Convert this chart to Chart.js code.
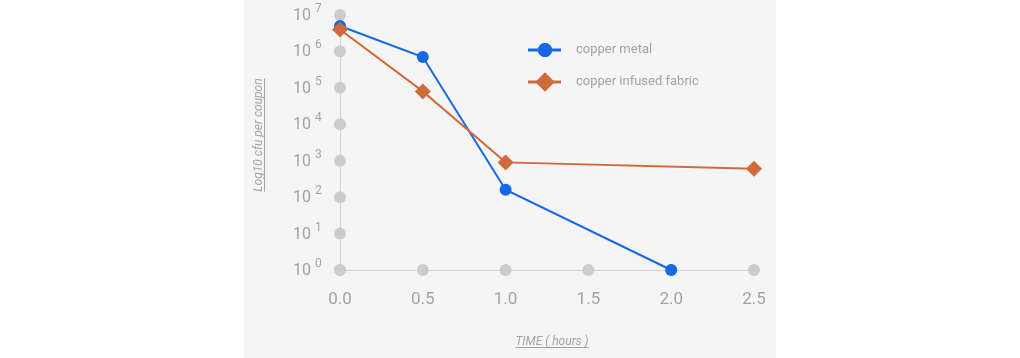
<!DOCTYPE html>
<html>
<head>
<meta charset="utf-8">
<script src="https://cdn.jsdelivr.net/npm/chart.js@4/dist/chart.umd.min.js"></script>
<style>
  html, body { margin: 0; padding: 0; background: #ffffff; }
  #panel { position: absolute; left: 244px; top: 0; width: 532px; height: 358px; background: #f5f5f5; }
</style>
</head>
<body>
<div id="panel"><canvas id="c" width="532" height="358"></canvas></div>
<script>
// ---- data ----
const seriesNames = ['copper metal', 'copper infused fabric'];
const metalTimes = [0.0, 0.5, 1.0, 2.0];
const metalCfu = [5e6, 7e5, 160, 1];
const fabricTimes = [0.0, 0.5, 1.0, 2.5];
const fabricCfu = [4e6, 8e4, 900, 600];
const yExponents = [0, 1, 2, 3, 4, 5, 6, 7];
const xTicks = [0.0, 0.5, 1.0, 1.5, 2.0, 2.5];
const yTitle = 'Log10 cfu per coupon';
const xTitle = 'TIME ( hours )';

const BLUE = '#1668e6';
const ORANGE = '#cf6a3a';
const TXT = '#a3a3a3';
const FONT = 'Roboto, "Noto Sans", sans-serif';

const decorPlugin = {
  id: 'decor',
  beforeDatasetsDraw(chart) {
    const ctx = chart.ctx;
    const xs = chart.scales.x, ys = chart.scales.y;
    const x0 = xs.getPixelForValue(xs.min);
    const yb = ys.getPixelForValue(ys.min);
    ctx.save();
    ctx.fillStyle = '#cccccc';
    ys.ticks.forEach(t => {
      ctx.beginPath();
      ctx.arc(x0, ys.getPixelForValue(t.value), 6, 0, Math.PI * 2);
      ctx.fill();
    });
    xs.ticks.forEach(t => {
      ctx.beginPath();
      ctx.arc(xs.getPixelForValue(t.value), yb, 6, 0, Math.PI * 2);
      ctx.fill();
    });
    ctx.restore();
  },
  afterDraw(chart) {
    const ctx = chart.ctx;
    const ys = chart.scales.y;
    const ca = chart.chartArea;
    ctx.save();
    // y tick labels 10^n
    ys.ticks.forEach(t => {
      const y = ys.getPixelForValue(t.value);
      const e = Math.round(Math.log10(t.value));
      ctx.fillStyle = TXT;
      ctx.textBaseline = 'middle';
      ctx.textAlign = 'right';
      ctx.font = '16px ' + FONT;
      ctx.fillText('10', ca.left - 29, y + 1);
      ctx.textAlign = 'left';
      ctx.font = '12px ' + FONT;
      ctx.fillText(String(e), ca.left - 25, y - 6);
    });
    // y title (rotated, italic, underlined)
    ctx.font = 'italic 12px ' + FONT;
    ctx.fillStyle = TXT;
    ctx.strokeStyle = TXT;
    ctx.lineWidth = 1;
    ctx.save();
    ctx.translate(14, 135);
    ctx.rotate(-Math.PI / 2);
    ctx.textAlign = 'center';
    ctx.textBaseline = 'alphabetic';
    let w = ctx.measureText(yTitle).width;
    ctx.fillText(yTitle, 0, 4);
    ctx.beginPath();
    ctx.moveTo(-w / 2, 6.5);
    ctx.lineTo(w / 2, 6.5);
    ctx.stroke();
    ctx.restore();
    // x title
    ctx.textAlign = 'center';
    ctx.textBaseline = 'alphabetic';
    w = ctx.measureText(xTitle).width;
    const xc = 308, yc = 345;
    ctx.fillText(xTitle, xc, yc);
    ctx.beginPath();
    ctx.moveTo(xc - w / 2, yc + 2.5);
    ctx.lineTo(xc + w / 2, yc + 2.5);
    ctx.stroke();
    // legend
    const legY = [50, 82];
    const legR = [7, 9.5];
    chart.data.datasets.forEach((ds, i) => {
      const y = legY[i];
      ctx.strokeStyle = ds.borderColor;
      ctx.lineWidth = 3;
      ctx.beginPath();
      ctx.moveTo(284, y);
      ctx.lineTo(317, y);
      ctx.stroke();
      ctx.fillStyle = ds.borderColor;
      Chart.helpers.drawPoint(ctx, { pointStyle: ds.pointStyle, radius: legR[i], borderWidth: 0 }, 301, y);
      ctx.fill();
      ctx.fillStyle = TXT;
      ctx.font = '13px ' + FONT;
      ctx.textAlign = 'left';
      ctx.textBaseline = 'middle';
      ctx.fillText(ds.label, 332, y);
    });
    ctx.restore();
  }
};

new Chart(document.getElementById('c'), {
  type: 'line',
  data: {
    datasets: [
      {
        label: seriesNames[0],
        data: metalTimes.map((t, i) => ({ x: t, y: metalCfu[i] })),
        borderColor: BLUE, backgroundColor: BLUE,
        borderWidth: 2, pointStyle: 'circle', pointRadius: 6,
        pointBorderWidth: 0, pointBackgroundColor: BLUE, tension: 0, clip: false, order: 1
      },
      {
        label: seriesNames[1],
        data: fabricTimes.map((t, i) => ({ x: t, y: fabricCfu[i] })),
        borderColor: ORANGE, backgroundColor: ORANGE,
        borderWidth: 2, pointStyle: 'rectRot', pointRadius: 8,
        pointBorderWidth: 0, pointBackgroundColor: ORANGE, tension: 0, clip: false, order: 0
      }
    ]
  },
  options: {
    responsive: false,
    animation: false,
    layout: { padding: { top: 15, right: 22, left: 0, bottom: 0 } },
    plugins: { legend: { display: false }, tooltip: { enabled: false } },
    scales: {
      x: {
        type: 'linear', min: 0, max: 2.5,
        afterFit(s) { s.height = 88; s.paddingLeft = 0; s.paddingRight = 0; },
        afterBuildTicks(s) { s.ticks = xTicks.map(v => ({ value: v })); },
        grid: { display: false, drawTicks: false },
        border: { color: '#d2d2d2', width: 1 },
        ticks: {
          callback: v => Number(v).toFixed(1),
          color: TXT, font: { size: 17, family: FONT }, padding: 20, maxRotation: 0
        }
      },
      y: {
        type: 'logarithmic', min: 1, max: 1e7,
        afterFit(s) { s.width = 96; s.paddingTop = 0; s.paddingBottom = 0; },
        afterBuildTicks(s) { s.ticks = yExponents.map(e => ({ value: Math.pow(10, e) })); },
        grid: { display: false, drawTicks: false },
        border: { color: '#d2d2d2', width: 1 },
        ticks: { callback: () => '', padding: 0 }
      }
    }
  },
  plugins: [decorPlugin]
});
</script>
</body>
</html>
